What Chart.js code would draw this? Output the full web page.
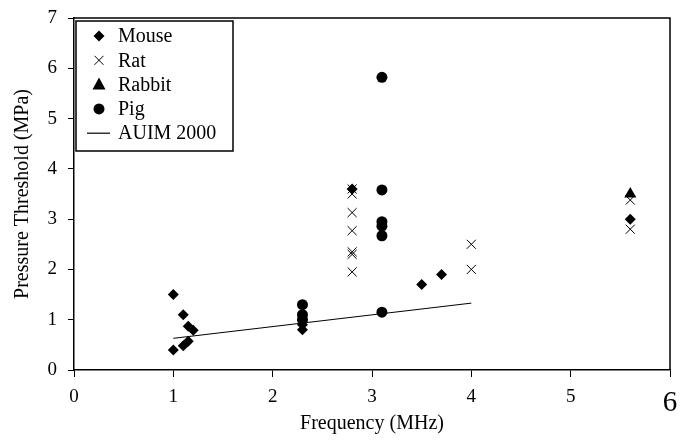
<!DOCTYPE html>
<html>
<head>
<meta charset="utf-8">
<script src="https://cdn.jsdelivr.net/npm/chart.js@4/dist/chart.umd.min.js"></script>
<style>
  html, body { margin: 0; padding: 0; background: #fff; }
  #wrap { width: 683px; height: 442px; }
</style>
</head>
<body>
<div id="wrap"><canvas id="chart"></canvas></div>
<script>
// values
const mouseX = [1.0, 1.0, 1.1, 1.1, 1.15, 1.15, 1.2, 2.3, 2.3, 2.3, 2.8, 3.5, 3.7, 5.6];
const mouseY = [1.5, 0.4, 1.1, 0.48, 0.87, 0.57, 0.79, 0.8, 0.9, 1.0, 3.6, 1.7, 1.9, 3.0];

const ratX = [2.8, 2.8, 2.8, 2.8, 2.8, 2.8, 2.8, 4.0, 4.0, 5.6, 5.6];
const ratY = [3.6, 3.5, 3.13, 2.77, 2.35, 2.3, 1.95, 2.5, 2.0, 3.38, 2.8];

const rabbitX = [5.6];
const rabbitY = [3.5];

const pigX = [2.3, 2.3, 2.3, 3.1, 3.1, 3.1, 3.1, 3.1, 3.1];
const pigY = [1.3, 1.1, 1.0, 5.82, 3.58, 2.95, 2.86, 2.67, 1.15];

const auimX = [1.0, 4.0];
const auimY = [0.63, 1.33];

const xTicks = [0, 1, 2, 3, 4, 5, 6];
const yTicks = [0, 1, 2, 3, 4, 5, 6, 7];

const SERIF = '"Liberation Serif", "Times New Roman", serif';
Chart.defaults.font.family = SERIF;
Chart.defaults.color = '#000';

function pts(xs, ys) {
    return xs.map((x, i) => ({ x: x, y: ys[i] }));
}

// box round the plot (top and right sides)
const frame = {
    id: 'frame',
    afterDraw(chart) {
        const a = chart.chartArea;
        const ctx = chart.ctx;
        ctx.save();
        ctx.strokeStyle = '#000';
        ctx.lineWidth = 1.5;
        ctx.beginPath();
        ctx.moveTo(a.left, a.top);
        ctx.lineTo(a.right, a.top);
        ctx.lineTo(a.right, a.bottom);
        ctx.stroke();
        ctx.restore();
    }
};

function marker(ctx, style, x, y) {
    ctx.beginPath();
    if (style === 'rectRot') {
        ctx.moveTo(x, y - 5.5); ctx.lineTo(x + 5.5, y); ctx.lineTo(x, y + 5.5); ctx.lineTo(x - 5.5, y);
        ctx.closePath(); ctx.fill();
    } else if (style === 'crossRot') {
        ctx.lineWidth = 1;
        ctx.moveTo(x - 4.5, y - 4.5); ctx.lineTo(x + 4.5, y + 4.5);
        ctx.moveTo(x + 4.5, y - 4.5); ctx.lineTo(x - 4.5, y + 4.5);
        ctx.stroke();
    } else if (style === 'triangle') {
        ctx.moveTo(x, y - 7); ctx.lineTo(x + 6.5, y + 5); ctx.lineTo(x - 6.5, y + 5);
        ctx.closePath(); ctx.fill();
    } else if (style === 'circle') {
        ctx.arc(x, y, 5.5, 0, Math.PI * 2); ctx.fill();
    } else {
        ctx.lineWidth = 1.2;
        ctx.moveTo(x - 12, y); ctx.lineTo(x + 11, y); ctx.stroke();
    }
}

// legend drawn in a bordered box inside the plot
const legendBox = {
    id: 'legendBox',
    afterDraw(chart) {
        const a = chart.chartArea;
        const ctx = chart.ctx;
        const x0 = a.left + 2, y0 = a.top + 3;
        ctx.save();
        ctx.fillStyle = '#fff';
        ctx.fillRect(x0, y0, 157, 130);
        ctx.strokeStyle = '#000';
        ctx.lineWidth = 1.5;
        ctx.strokeRect(x0, y0, 157, 130);
        ctx.fillStyle = '#000';
        ctx.font = '20px ' + SERIF;
        ctx.textBaseline = 'middle';
        chart.data.datasets.forEach((ds, i) => {
            const y = y0 + 15 + i * 24.3;
            marker(ctx, ds.showLine ? 'line' : ds.pointStyle, x0 + 23, y);
            ctx.fillText(ds.label, x0 + 42, y + 1);
        });
        ctx.restore();
    }
};

const config = {
    type: 'scatter',
    data: {
        datasets: [{
            label: 'Mouse',
            data: pts(mouseX, mouseY),
            pointStyle: 'rectRot',
            pointRadius: 5.5,
            backgroundColor: '#000',
            borderColor: '#000',
            borderWidth: 0,
            order: 4
        }, {
            label: 'Rat',
            data: pts(ratX, ratY),
            pointStyle: 'crossRot',
            pointRadius: 6.4,
            backgroundColor: '#000',
            borderColor: '#000',
            borderWidth: 1,
            order: 3
        }, {
            label: 'Rabbit',
            data: pts(rabbitX, rabbitY),
            pointStyle: 'triangle',
            pointRadius: 7,
            backgroundColor: '#000',
            borderColor: '#000',
            borderWidth: 0,
            order: 2
        }, {
            label: 'Pig',
            data: pts(pigX, pigY),
            pointStyle: 'circle',
            pointRadius: 5.5,
            backgroundColor: '#000',
            borderColor: '#000',
            borderWidth: 0,
            order: 1
        }, {
            label: 'AUIM 2000',
            data: pts(auimX, auimY),
            showLine: true,
            pointRadius: 0,
            borderColor: '#000',
            borderWidth: 1,
            order: 0
        }]
    },
    options: {
        responsive: true,
        maintainAspectRatio: false,
        animation: false,
        layout: { padding: { left: 0, top: 18, right: 13, bottom: 0 } },
        plugins: {
            legend: { display: false },
            tooltip: { enabled: false }
        },
        scales: {
            x: {
                type: 'linear',
                min: 0,
                max: 6,
                afterBuildTicks: (s) => { s.ticks = xTicks.map(v => ({ value: v })); },
                afterFit: (s) => {
                    s.height = 72;
                    s.paddingLeft = 0;
                    s.paddingRight = 0;
                },
                grid: { drawOnChartArea: false, tickLength: 7, color: '#000', lineWidth: 1 },
                border: { color: '#000', width: 1.5 },
                ticks: {
                    padding: 9,
                    color: '#000',
                    font: (c) => (c.tick && c.tick.value === 6)
                        ? { family: SERIF, size: 29 }
                        : { family: SERIF, size: 19 }
                },
                title: {
                    display: true,
                    text: 'Frequency (MHz)',
                    font: { family: SERIF, size: 20 },
                    padding: { top: 0, bottom: 6 }
                }
            },
            y: {
                type: 'linear',
                min: 0,
                max: 7,
                afterBuildTicks: (s) => { s.ticks = yTicks.map(v => ({ value: v })); },
                afterFit: (s) => {
                    s.width = 74;
                    s.paddingTop = 0;
                    s.paddingBottom = 0;
                },
                grid: { drawOnChartArea: false, tickLength: 6, color: '#000', lineWidth: 1 },
                border: { color: '#000', width: 1.5 },
                ticks: {
                    padding: 11,
                    color: '#000',
                    font: { family: SERIF, size: 19 }
                },
                title: {
                    display: true,
                    text: 'Pressure Threshold (MPa)',
                    font: { family: SERIF, size: 20 },
                    padding: { top: 11, bottom: 0 }
                }
            }
        }
    },
    plugins: [frame, legendBox]
};

new Chart(document.getElementById('chart'), config);
</script>
</body>
</html>
